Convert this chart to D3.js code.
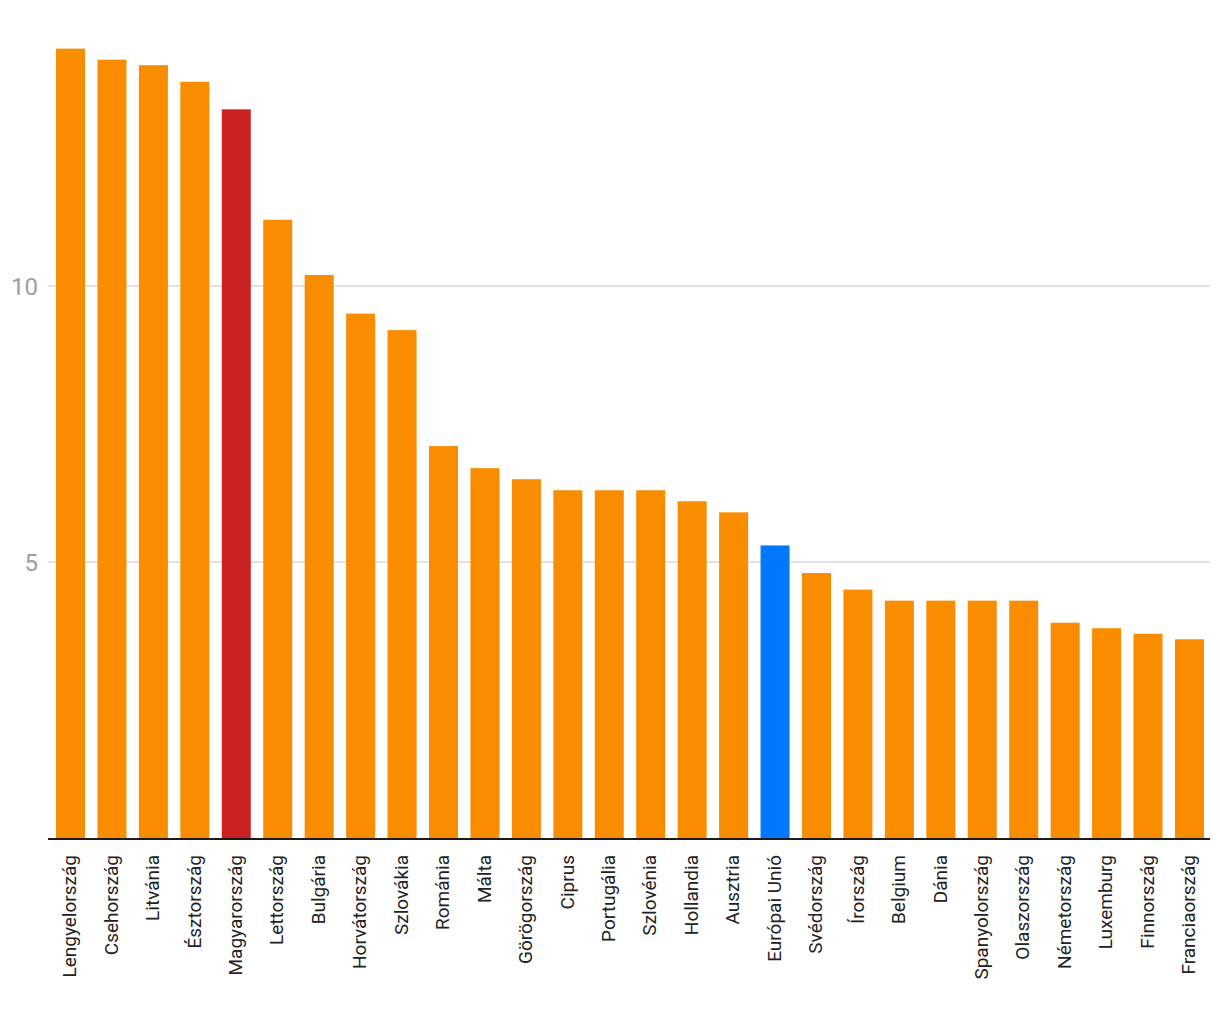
<!DOCTYPE html>
<html>
<head>
<meta charset="utf-8">
<script src="https://cdn.jsdelivr.net/npm/d3@7"></script>
<style>
  html, body { margin: 0; padding: 0; background: #fff; }
  svg { display: block; }
  text { font-family: Roboto, "Noto Sans", sans-serif; }
</style>
</head>
<body>
<svg id="chart" width="1220" height="1020"></svg>
<script>
const categories = ["Lengyelország","Csehország","Litvánia","Észtország","Magyarország","Lettország","Bulgária","Horvátország","Szlovákia","Románia","Málta","Görögország","Ciprus","Portugália","Szlovénia","Hollandia","Ausztria","Európai Unió","Svédország","Írország","Belgium","Dánia","Spanyolország","Olaszország","Németország","Luxemburg","Finnország","Franciaország"];
const values = [14.3,14.1,14.0,13.7,13.2,11.2,10.2,9.5,9.2,7.1,6.7,6.5,6.3,6.3,6.3,6.1,5.9,5.3,4.8,4.5,4.3,4.3,4.3,4.3,3.9,3.8,3.7,3.6];
const highlight = {"Magyarország": "#cb2121", "Európai Unió": "#0077ff"};
const yTicks = [5, 10];

const data = categories.map((c, i) => ({ c, v: values[i] }));
const svg = d3.select("#chart");
const x = d3.scaleBand().domain(categories).range([49.8, 1210.2]).paddingInner(0.3).paddingOuter(0.15);
const y = d3.scaleLinear().domain([0, 10]).range([838, 286]);

// gridlines
svg.append("g").selectAll("line").data(yTicks).join("line")
  .attr("x1", 48).attr("x2", 1210)
  .attr("y1", d => y(d)).attr("y2", d => y(d))
  .attr("stroke", "#e3e3e3").attr("stroke-width", 2);

// y tick labels
svg.append("g").selectAll("text").data(yTicks).join("text")
  .attr("x", 38).attr("y", d => y(d)).attr("dy", "0.36em")
  .attr("text-anchor", "end").attr("fill", "#9e9e9e")
  .attr("font-size", 24).text(d => d);

// bars
svg.append("g").selectAll("rect").data(data).join("rect")
  .attr("x", d => x(d.c)).attr("width", x.bandwidth())
  .attr("y", d => y(d.v)).attr("height", d => y(0) - y(d.v))
  .attr("fill", d => highlight[d.c] || "#fa8c00");

// baseline
svg.append("line").attr("x1", 48).attr("x2", 1210)
  .attr("y1", y(0) + 1).attr("y2", y(0) + 1)
  .attr("stroke", "#1a1a1a").attr("stroke-width", 2);

// x labels
const xAxis = d3.axisBottom(x).tickSize(0).tickPadding(0);
const gx = svg.append("g").attr("transform", `translate(0,${y(0)})`).call(xAxis);
gx.select(".domain").remove();
gx.selectAll("text")
  .attr("transform", "rotate(-90)")
  .attr("x", -17).attr("y", 0).attr("dy", "0.3em")
  .attr("text-anchor", "end")
  .attr("fill", "#222")
  .attr("font-size", 19)
  .attr("font-family", "'Liberation Sans', Arial, sans-serif");
</script>
</body>
</html>
